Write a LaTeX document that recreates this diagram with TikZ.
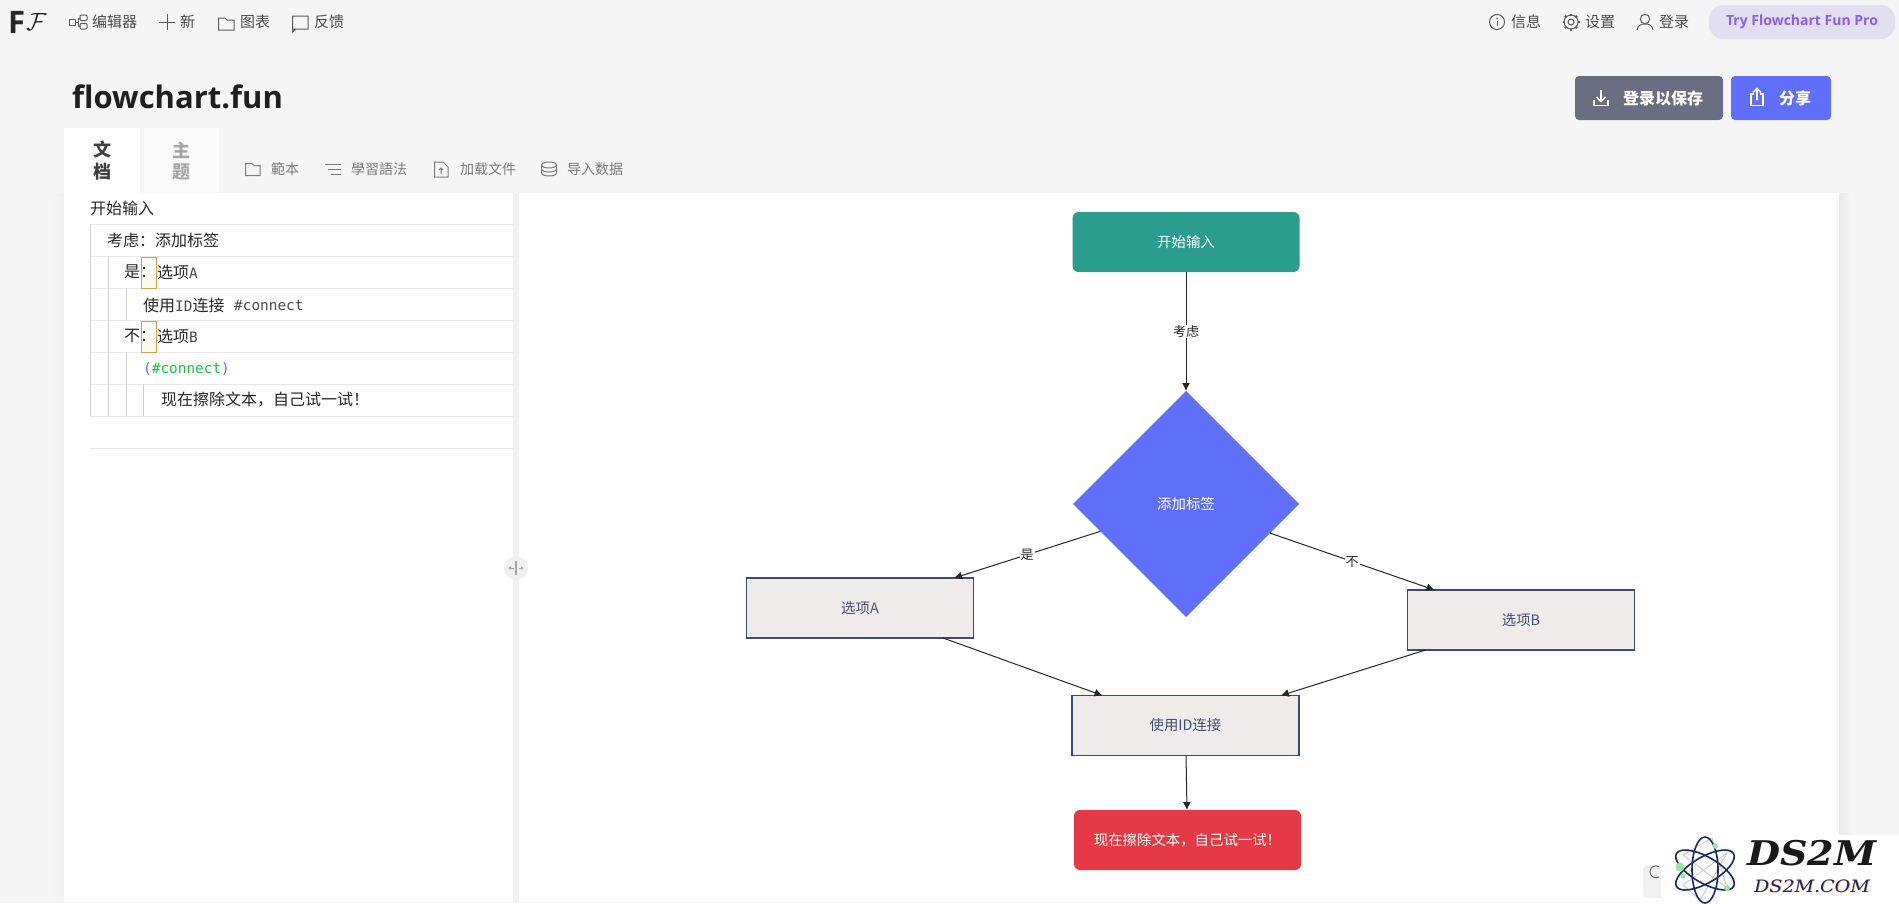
\documentclass[tikz,border=0pt]{standalone}
\usepackage{fontspec}
\setmainfont{Noto Sans CJK SC}
\newfontfamily\titlefont{Open Sans}
\newfontfamily\codefont{DejaVu Sans Mono}
\newfontfamily\markfont[FakeStretch=1.12]{DejaVu Serif}
\usetikzlibrary{arrows.meta, shapes.geometric}

\definecolor{pagegray}{HTML}{F5F5F5}
\definecolor{tabgray}{HTML}{FAFAFA}
\definecolor{uitext}{HTML}{4A4A4A}
\definecolor{icongray}{HTML}{5A5A5A}
\definecolor{dimtext}{HTML}{7A7A7A}
\definecolor{rowline}{HTML}{E9E9E9}
\definecolor{guideline}{HTML}{CFCFCF}
\definecolor{startgreen}{HTML}{2A9D8F}
\definecolor{flowblue}{HTML}{5F6FFA}
\definecolor{codegreen}{HTML}{12C73E}
\definecolor{endred}{HTML}{E63946}
\definecolor{boxfill}{HTML}{EFEBEB}
\definecolor{boxline}{HTML}{3A4A70}
\definecolor{boxtext}{HTML}{445070}
\definecolor{saveslate}{HTML}{6B6E82}
\definecolor{propill}{HTML}{E3DFF3}
\definecolor{propurple}{HTML}{8B5CF0}
\definecolor{warnline}{HTML}{D9A441}
\definecolor{warnfill}{HTML}{FCF9F2}
\definecolor{atomnavy}{HTML}{1B2A5E}
\definecolor{atomgreen}{HTML}{93E8A5}

\newcommand{\fsize}[1]{\fontsize{#1}{#1}\selectfont}

\tikzset{
    toptext/.style   = {anchor=west, inner sep=0, text=uitext, font=\fsize{15}},
    subtext/.style   = {anchor=west, inner sep=0, text=dimtext, font=\fsize{14}},
    codetext/.style  = {anchor=west, inner sep=0, text=black!85, font=\fsize{16}},
    btntext/.style   = {inner sep=0, text=white, font=\fsize{16}\bfseries},
    icon/.style      = {draw=icongray, line width=1pt},
    subicon/.style   = {draw=dimtext, line width=1pt},
    whiteicon/.style = {draw=white, line width=1.6pt},
    startbox/.style  = {rectangle, rounded corners=6pt, fill=startgreen, text=white,
                        minimum width=227pt, minimum height=60pt, outer sep=0, font=\fsize{14.4}},
    endbox/.style    = {rectangle, rounded corners=6pt, fill=endred, text=white,
                        minimum width=227pt, minimum height=60pt, outer sep=0, font=\fsize{14.4}},
    optbox/.style    = {rectangle, draw=boxline, line width=1.5pt, fill=boxfill, text=boxtext,
                        minimum width=227pt, minimum height=60pt, outer sep=0, font=\fsize{14.4}},
    condbox/.style   = {diamond, fill=flowblue, text=white, inner sep=0, outer sep=0,
                        minimum width=226pt, minimum height=226pt, font=\fsize{14.4}},
    flow/.style      = {draw=black!85, line width=1pt, -{Latex[length=8pt,width=8pt]}},
    edgelabel/.style = {midway, fill=white, inner sep=1pt, text=black!85, font=\fsize{13}},
}

\begin{document}
\begin{tikzpicture}[x=1pt, y=-1pt]
    \useasboundingbox (0, 0) rectangle (1899, 903);
    \fill[pagegray] (0, 0) rectangle (1899, 903);

    % panels
    \shade[left color=black!8, right color=pagegray] (1839, 193) rectangle (1852, 902);
    \shade[left color=pagegray, right color=black!6] (52, 193) rectangle (64, 902);
    \fill[white] (64, 193) rectangle (513, 902);
    \fill[white] (519, 193) rectangle (1839, 902);
    \fill[white] (64, 128) rectangle (140, 193);
    \fill[tabgray] (144, 128) rectangle (219, 193);

    % top bar
    \draw
        (8, 22)  node (logobold) [anchor=west, inner sep=0, text=black!85, font=\fsize{31}\titlefont\bfseries] {F}
        (26, 22) node (logoscript) [anchor=west, inner sep=0, text=black!85, font=\fsize{32}] {$\mathcal{F}$}
        (92, 22)   node (menueditor) [toptext] {编辑器}
        (180, 22)  node (menunew)    [toptext] {新}
        (240, 22)  node (menucharts) [toptext] {图表}
        (314, 22)  node (menufeed)   [toptext] {反馈}
        (1511, 22) node (menuinfo)   [toptext] {信息}
        (1585, 22) node (menuset)    [toptext] {设置}
        (1659, 22) node (menulogin)  [toptext] {登录};

    \draw[icon] (69.5, 19) rectangle (75, 25);
    \draw[icon, rounded corners=1pt] (80, 15) rectangle (87, 20.5) (80, 23.5) rectangle (87, 29);
    \draw[icon] (75, 22) -- (78, 22) (80, 18) -- (78, 18) -- (78, 26) -- (80, 26);
    \draw[icon] (159, 22) -- (175, 22) (167, 14) -- (167, 30);
    \draw[icon] (218.5, 18) -- (225, 18) -- (227, 20) -- (234, 20) -- (234, 30) -- (218.5, 30) -- cycle;
    \draw[icon] (292.5, 16) rectangle (308, 29) (292.5, 29) -- (292.5, 32) -- (296, 29);
    \draw[icon] (1497, 22) circle (7.5);
    \fill[icongray] (1497, 18.3) circle (0.9);
    \draw[icon] (1497, 21) -- (1497, 26);
    \draw[icon] (1571, 22) circle (3);
    \draw[icon] (1571, 22) circle (7);
    \foreach \a in {0, 45, ..., 315}
        \draw[icongray, line width=2.4pt] (1571, 22) ++(\a:6.5) -- ++(\a:2);
    \draw[icon] (1645, 19) circle (4.7);
    \draw[icon] (1637, 30) .. controls (1638, 25) and (1641, 24) .. (1645, 24) .. controls (1649, 24) and (1652, 25) .. (1653, 30);

    \fill[propill, rounded corners=14pt] (1709, 5) rectangle (1895, 39);
    \node (protext) [inner sep=0, text=propurple, font=\fsize{14}\titlefont\bfseries] at (1802, 22) {Try Flowchart Fun Pro};

    % title row
    \node (title) [anchor=west, inner sep=0, text=black!88, font=\fsize{31}\titlefont\bfseries] at (72, 97) {flowchart.fun};
    \fill[saveslate, rounded corners=4pt] (1575, 76) rectangle (1723, 120);
    \fill[flowblue, rounded corners=4pt] (1731, 76) rectangle (1831, 120);
    \draw
        (1663, 98) node (savetext)  [btntext] {登录以保存}
        (1795, 98) node (sharetext) [btntext] {分享};
    \draw[whiteicon] (1594, 100) -- (1594, 105.5) -- (1608, 105.5) -- (1608, 100);
    \draw[whiteicon] (1601, 90) -- (1601, 101) (1596.5, 97) -- (1601, 101.5) -- (1605.5, 97);
    \draw[whiteicon] (1754, 94) -- (1751, 94) -- (1751, 105.5) -- (1763, 105.5) -- (1763, 94) -- (1760, 94);
    \draw[whiteicon] (1757, 100) -- (1757, 89) (1753, 92.5) -- (1757, 88.5) -- (1761, 92.5);

    % tabs and sub toolbar
    \draw
        (102, 150)   node (tabdoca)   [inner sep=0, text=uitext!85!black, font=\fsize{18}\bfseries] {文}
        (102, 172)   node (tabdocb)   [inner sep=0, text=uitext!85!black, font=\fsize{18}\bfseries] {档}
        (181.5, 150) node (tabthemea) [inner sep=0, text=black!35, font=\fsize{18}\bfseries] {主}
        (181.5, 172) node (tabthemeb) [inner sep=0, text=black!35, font=\fsize{18}\bfseries] {题}
        (271, 169) node (subtpl)   [subtext] {範本}
        (351, 169) node (subsyn)   [subtext] {學習語法}
        (460, 169) node (subload)  [subtext] {加载文件}
        (567, 169) node (subdata)  [subtext] {导入数据};
    \draw[subicon] (245.5, 163.5) -- (252, 163.5) -- (254, 165.5) -- (260, 165.5) -- (260, 175.5) -- (245.5, 175.5) -- cycle;
    \draw[subicon] (325, 164) -- (341, 164) (328, 169) -- (341, 169) (331, 174) -- (341, 174);
    \draw[subicon] (434.5, 162) -- (443, 162) -- (448, 167) -- (448, 177) -- (434.5, 177) -- cycle;
    \draw[subicon] (441, 174) -- (441, 168) (439, 170) -- (441, 168) -- (443, 170);
    \draw[subicon] (549, 165) ellipse (7.5 and 3);
    \draw[subicon] (541.5, 165) -- (541.5, 173) arc (180:0:7.5 and 3) -- (556.5, 165);
    \draw[subicon] (541.5, 169) arc (180:0:7.5 and 3);

    % editor rows
    \foreach \y in {224, 256, 288, 320, 352, 384, 416, 448}
        \draw[rowline, line width=1pt] (90, \y) -- (513, \y);
    \draw[guideline, line width=1pt]
        (90.5, 224) -- (90.5, 416)
        (108.5, 256) -- (108.5, 416)
        (126, 288) -- (126, 320)
        (126, 352) -- (126, 416)
        (143.5, 384) -- (143.5, 416);
    \draw[draw=warnline, fill=warnfill, line width=1pt]
        (141.5, 257) rectangle (156.5, 288.5)
        (141.5, 321) rectangle (156.5, 352.5);
    \draw
        (90, 208)  node (rowstart)  [codetext] {开始输入}
        (107, 240) node (rowcons)   [codetext] {考虑：添加标签}
        (124, 272) node (rowyes)    [codetext] {是：}
        (157, 272) node (rowopta)   [codetext] {选项{\codefont\fsize{14.4}\color{uitext}A}}
        (143, 305) node (rowid)     [codetext] {使用{\codefont\fsize{14.4}\color{uitext}ID}连接}
        (234, 305) node (rowtag)    [codetext, text=uitext, font=\fsize{14.4}\codefont] {\#connect}
        (124, 336) node (rowno)     [codetext] {不：}
        (157, 336) node (rowoptb)   [codetext] {选项{\codefont\fsize{14.4}\color{uitext}B}}
        (143, 369) node (rowref)    [codetext, font=\fsize{14.4}\codefont] {\textcolor{flowblue}{(}\textcolor{codegreen}{\#connect}\textcolor{flowblue}{)}}
        (161, 400) node (rownow)    [codetext] {现在擦除文本，自己试一试！};

    % divider handle
    \fill[black!5] (513, 193) rectangle (519, 902);
    \fill[black!6] (516, 568) circle (12);
    \draw[black!35, line width=1.4pt] (516, 561) -- (516, 575);
    \draw[black!35, line width=1pt, -{Latex[length=3pt,width=4pt]}] (513.5, 568) -- (508, 568);
    \draw[black!35, line width=1pt, -{Latex[length=3pt,width=4pt]}] (518.5, 568) -- (524, 568);

    % flowchart
    \draw
        (1186, 242)   node (start) [startbox] {开始输入}
        (1186, 504)   node (cond)  [condbox]  {添加标签}
        (860, 608)    node (opta)  [optbox]   {选项A}
        (1521, 620)   node (optb)  [optbox]   {选项B}
        (1185.5, 725.5) node (join) [optbox]  {使用ID连接}
        (1187.5, 840) node (stop)  [endbox]   {现在擦除文本，自己试一试！};

    \draw[flow] (start) -- node[edgelabel] {考虑} (cond);
    \draw[flow] (cond) -- node[edgelabel] {是} (opta);
    \draw[flow] (cond) -- node[edgelabel] {不} (optb);
    \draw[flow] (opta) -- (join);
    \draw[flow] (optb) -- (join);
    \draw[flow] (join) -- (stop);

    % corner button and watermark
    \fill[white, rounded corners=8pt] (1636, 860) rectangle (1680, 903);
    \fill[black!6, rounded corners=4pt] (1643, 866) rectangle (1675, 898);
    \draw[black!60, line width=1pt] (1659, 877) arc (60:300:6);
    \fill[white] (1661, 835) rectangle (1899, 903);

    \draw[black!25, line width=0.7pt] (1683, 855) -- (1727, 888) -- (1712, 838) -- cycle;
    \draw[black!25, line width=0.7pt] (1683, 885) -- (1727, 853) -- (1700, 900) -- cycle;
    \foreach \a in {30, 90, 150}
        \draw[atomnavy, line width=1.6pt, rotate around={\a:(1705, 870)}] (1705, 870) ellipse (33 and 13);
    \fill[atomgreen] (1680, 867) circle (4.5);
    \fill[atomgreen] (1683, 876) circle (2.7);
    \fill[atomgreen] (1715, 846) circle (2.7);
    \fill[atomgreen] (1727, 888) circle (3);

    \draw
        (1812, 853) node (markbig) [inner sep=0, text=black!90, font=\fsize{34}\markfont\bfseries\itshape] {DS2M}
        (1812.8, 886.6) node (markshade) [inner sep=0, text=orange!60, font=\fsize{17}\markfont\itshape] {DS2M.COM}
        (1812, 886) node (marksmall) [inner sep=0, text=atomnavy, font=\fsize{17}\markfont\itshape] {DS2M.COM};
\end{tikzpicture}
\end{document}
